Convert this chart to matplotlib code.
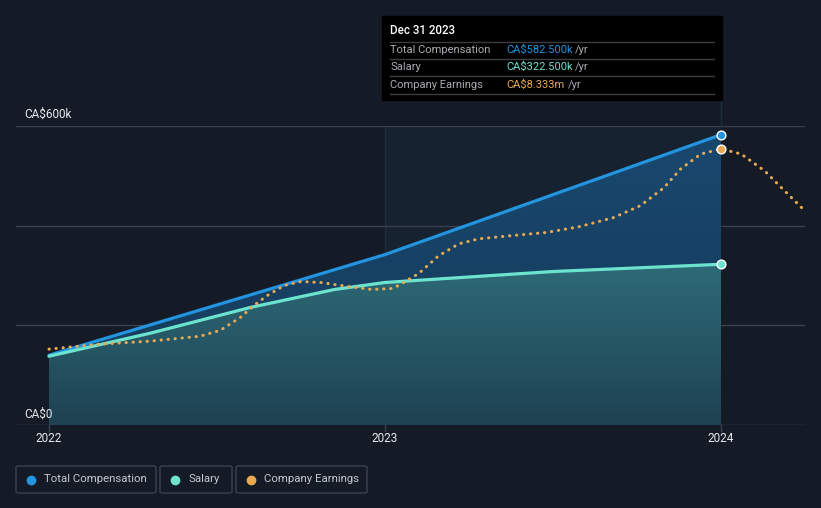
import numpy as np
import matplotlib.pyplot as plt
from matplotlib.patches import Rectangle, FancyBboxPatch
from matplotlib.lines import Line2D

plt.rcParams['font.family'] = ['Roboto', 'DejaVu Sans']

# data (CA$k for pay, CA$m for earnings)
comp_t = [2022.0, 2023.0, 2024.0]
total_comp = [140, 342, 582.5]
sal_t = [2022.0, 2022.3, 2022.6, 2022.85, 2023.0, 2023.5, 2024.0]
salary = [138, 184, 236, 272, 286, 308, 322.5]
earn_t = [2022.00, 2022.15, 2022.30, 2022.45, 2022.51, 2022.57, 2022.61, 2022.65,
          2022.70, 2022.75, 2022.81, 2022.89, 2022.96, 2023.02, 2023.04, 2023.10,
          2023.16, 2023.22, 2023.28, 2023.38, 2023.48, 2023.58, 2023.68, 2023.76,
          2023.83, 2023.88, 2023.94, 2024.00, 2024.06, 2024.13, 2024.18, 2024.24]
earnings = [2.29, 2.44, 2.53, 2.68, 2.86, 3.25, 3.61, 3.91,
            4.21, 4.33, 4.30, 4.18, 4.09, 4.12, 4.21, 4.57,
            5.11, 5.47, 5.62, 5.72, 5.81, 5.99, 6.26, 6.62,
            7.16, 7.73, 8.18, 8.333, 8.18, 7.67, 7.16, 6.56]
years = [2022, 2023, 2024]

BG = '#151b26'
BLUE = '#2394df'
MINT = '#6ce3cf'
GOLD = '#e8a951'
W, H = 821, 508

fig = plt.figure(figsize=(W / 100, H / 100), dpi=100, facecolor=BG)

def px(x, y):
    return x / W, 1 - y / H

x0, y0 = px(16, 425)
x1, y1 = px(805, 126)
ax = fig.add_axes([x0, y0, x1 - x0, y1 - y0])
ax.set_facecolor(BG)
xmin = 2022 - 33 / 336
xmax = 2024 + 84 / 336
ax.set_xlim(xmin, xmax)
ax.set_ylim(0, 600)
for s in ax.spines.values():
    s.set_visible(False)
ax.set_xticks([])
ax.set_yticks([])

# highlight year
ax.axvspan(2023, 2024, color='#172230', zorder=0, lw=0)
ax.axvline(2023, color='#1f2d3b', lw=1, zorder=0.5)

for g in [0, 200, 400, 600]:
    ax.axhline(g, color='#3a414c', lw=1, zorder=1)

def grad_fill(xs, lo, hi, top_col, bot_col, ymax, z):
    poly = ax.fill_between(xs, lo, hi, color='none', lw=0)
    grad = np.linspace(0, 1, 256)[:, None]
    c_top = np.array(plt.matplotlib.colors.to_rgb(top_col))
    c_bot = np.array(plt.matplotlib.colors.to_rgb(bot_col))
    img = c_bot + (c_top - c_bot) * grad[..., None]
    img = np.repeat(img, 2, axis=1)
    im = ax.imshow(img, extent=[2022, 2024, 0, ymax], origin='lower',
                   aspect='auto', zorder=z)
    path = poly.get_paths()[0]
    im.set_clip_path(path, transform=ax.transData)
    ax.set_xlim(xmin, xmax)
    ax.set_ylim(0, 600)

grid_t = sorted(set(comp_t + sal_t))
grad_fill(grid_t, np.interp(grid_t, sal_t, salary), np.interp(grid_t, comp_t, total_comp),
          '#19486f', '#163a58', 600, 2)
grad_fill(sal_t, 0, salary, '#2e6b78', '#1e4252', 330, 2.5)

ax.plot(comp_t, total_comp, color=BLUE, lw=2.3, zorder=4, solid_capstyle='round')
ax.plot(sal_t, salary, color=MINT, lw=2.3, zorder=4, solid_capstyle='round')

ax2 = ax.twinx()
ax2.set_ylim(0, 8.333 * 600 / 554)
ax2.axis('off')
ax2.plot(earn_t, earnings, color=GOLD, lw=2.2, ls=(0, (0.1, 2.2)),
         dash_capstyle='round', zorder=5)

ax.plot([2024], [total_comp[-1]], 'o', ms=6.3, color=BLUE, mec='white', mew=1, zorder=6, clip_on=False)
ax.plot([2024], [salary[-1]], 'o', ms=6.3, color=MINT, mec='white', mew=1, zorder=6, clip_on=False)
ax2.plot([2024], [earnings[earn_t.index(2024.0)]], 'o', ms=6.3, color=GOLD, mec='white', mew=1, zorder=6, clip_on=False)

# y labels
fig.text(*px(24, 114), 'CA$600k', color='#e6e8eb', fontsize=8.5, va='center', ha='left')
fig.text(*px(24, 414), 'CA$0', color='#e6e8eb', fontsize=8.5, va='center', ha='left')

# x ticks
for yr in years:
    xp = 49 + (yr - 2022) * 336
    fig.add_artist(Line2D([xp / W, xp / W], [1 - 425 / H, 1 - 431 / H], color='#3a414c', lw=1))
    fig.text(*px(xp, 439), str(yr), color='#e6e8eb', fontsize=8.5, ha='center', va='center')

# tooltip
fig.add_artist(Rectangle(px(382, 100), 340 / W, 84 / H, color='black', zorder=10))
fig.add_artist(Line2D([721 / W, 721 / W], [1 - 100 / H, 1 - 126 / H], color='#1f2d3b', lw=1))
fig.text(*px(390, 31), 'Dec 31 2023', color='white', fontsize=8.3, fontweight='medium',
         va='center', zorder=11)
rows = [('Total Compensation', 'CA$582.500k', BLUE),
        ('Salary', 'CA$322.500k', MINT),
        ('Company Earnings', 'CA$8.333m', GOLD)]
for i, (lab, val, col) in enumerate(rows):
    yl = 41.5 + i * 17.4
    fig.add_artist(Line2D([390 / W, 714 / W], [1 - yl / H, 1 - yl / H], color='#3a3d42', lw=1, zorder=11))
    yc = yl + 8.2
    fig.text(*px(390, yc), lab, color='#a9acb1', fontsize=8, va='center', zorder=11)
    fig.text(*px(506, yc), val, color=col, fontsize=8, va='center', zorder=11)
    vlen = {0: 66, 1: 66, 2: 59}[i]
    fig.text(*px(506 + vlen + 3, yc), '/yr', color='#a9acb1', fontsize=8, va='center', zorder=11)
fig.add_artist(Line2D([390 / W, 714 / W], [1 - 93.5 / H, 1 - 93.5 / H], color='#3a3d42', lw=1, zorder=11))

# legend
legend = [('Total Compensation', BLUE, 16, 156), ('Salary', MINT, 160, 232),
          ('Company Earnings', GOLD, 236, 367)]
for lab, col, bx0, bx1 in legend:
    fig.add_artist(FancyBboxPatch(px(bx0, 493), (bx1 - bx0) / W, 27 / H,
                                  boxstyle='round,pad=0,rounding_size=0.003',
                                  fc='none', ec='#3d434d', lw=1))
    fig.add_artist(Line2D([(bx0 + 15) / W], [1 - 479.5 / H], marker='o', ms=6,
                          color=col, mec=col))
    fig.text(*px(bx0 + 28, 479.5), lab, color='#c4c7cc', fontsize=8.2, va='center')

fig.savefig('out.png', dpi=100, facecolor=BG)
